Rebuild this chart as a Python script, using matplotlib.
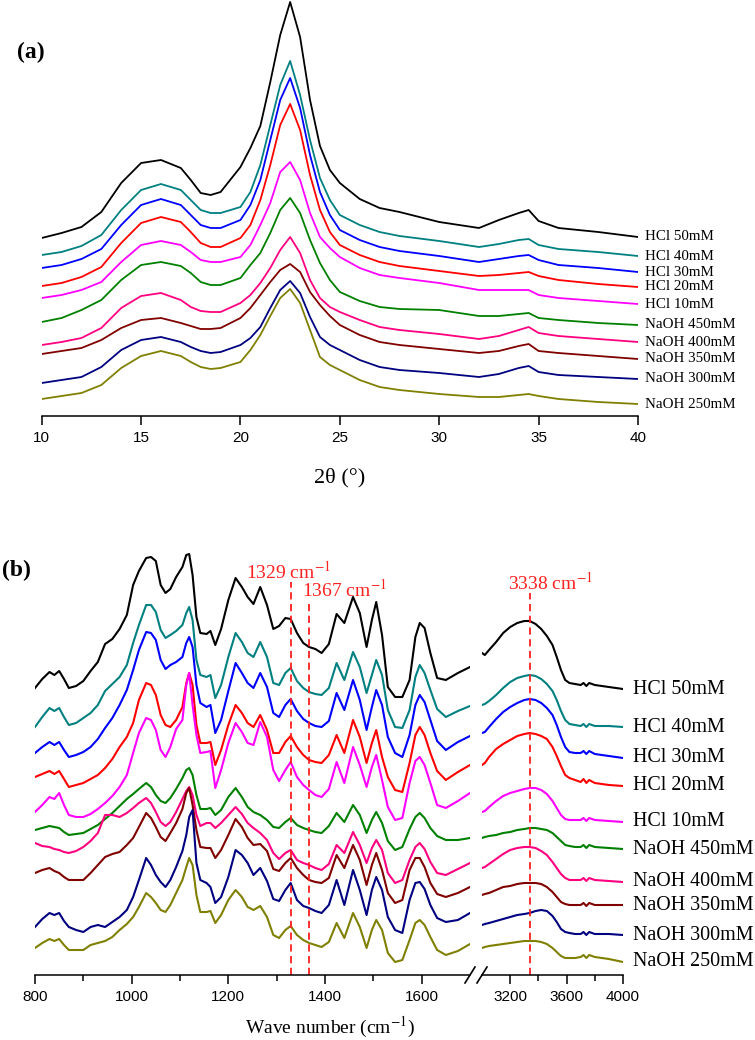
import matplotlib
matplotlib.use('Agg')
import matplotlib.pyplot as plt
from matplotlib.ticker import FixedLocator

plt.rcParams['font.family'] = 'Liberation Serif'
plt.rcParams['mathtext.fontset'] = 'stix'

samples = ['HCl 50mM', 'HCl 40mM', 'HCl 30mM', 'HCl 20mM', 'HCl 10mM',
           'NaOH 450mM', 'NaOH 400mM', 'NaOH 350mM', 'NaOH 300mM', 'NaOH 250mM']
colors = ['#000000', '#008080', '#0000ff', '#ff0000', '#ff00ff',
          '#008000', '#ff0080', '#800000', '#000080', '#808000']

# ---------------- (a) XRD, intensity in a.u. (stacked) ----------------
two_theta = [10, 11, 12, 13, 14, 15, 16, 17, 17.5, 18, 18.5, 19, 20, 20.5, 21, 21.5, 22, 22.5,
             23, 23.5, 24, 24.5, 25, 26, 27, 28, 30, 32, 33, 34, 34.5, 35, 36, 38, 40]

xrd_hcl50 = [178, 183, 189, 204, 233, 253, 256, 248, 236, 223, 221, 224, 249, 268, 290, 334, 381, 414,
             379, 316, 270, 246, 233, 217, 208, 204, 194, 188, 196, 203, 206, 195, 188, 184, 179]
xrd_hcl40 = [161, 164, 170, 181, 206, 226, 232, 226, 216, 206, 203, 203, 209, 224, 251, 291, 331, 355,
             321, 276, 238, 216, 201, 191, 184, 180, 175, 169, 172, 176, 177, 171, 167, 164, 160]
xrd_hcl30 = [148, 151, 157, 167, 191, 211, 217, 211, 201, 191, 188, 188, 196, 211, 236, 276, 316, 338,
             308, 261, 224, 201, 186, 176, 169, 165, 160, 154, 157, 160, 161, 156, 151, 148, 144]
xrd_hcl20 = [130, 133, 139, 149, 173, 193, 199, 194, 184, 173, 169, 169, 178, 191, 216, 251, 291, 312,
             286, 241, 206, 184, 171, 161, 154, 150, 145, 140, 141, 143, 144, 140, 136, 132, 129]
xrd_hcl10 = [118, 121, 126, 134, 154, 171, 175, 171, 164, 156, 154, 154, 159, 171, 191, 213, 244, 254,
             236, 203, 179, 168, 159, 148, 141, 138, 133, 126, 126, 126, 126, 121, 118, 115, 112]
xrd_naoh450 = [94, 98, 106, 116, 136, 151, 154, 150, 143, 134, 131, 131, 138, 151, 163, 183, 206, 218,
               203, 176, 153, 136, 124, 115, 109, 107, 106, 100, 100, 102, 103, 98, 96, 93, 91]
xrd_naoh400 = [71, 74, 78, 88, 108, 120, 123, 116, 109, 105, 104, 104, 113, 121, 133, 148, 166, 179,
               163, 136, 118, 109, 104, 96, 89, 86, 82, 77, 80, 86, 89, 83, 80, 77, 74]
xrd_naoh350 = [62, 65, 68, 76, 88, 96, 98, 93, 90, 87, 87, 88, 98, 108, 121, 134, 146, 152,
               144, 124, 111, 100, 91, 81, 74, 71, 67, 63, 65, 70, 72, 65, 63, 60, 57]
xrd_naoh300 = [33, 36, 39, 49, 66, 76, 79, 74, 69, 65, 63, 64, 71, 78, 89, 108, 126, 135,
               123, 99, 79, 71, 66, 56, 49, 46, 43, 39, 42, 48, 50, 44, 41, 39, 37]
xrd_naoh250 = [17, 20, 23, 31, 48, 60, 65, 60, 54, 49, 47, 48, 54, 66, 81, 100, 118, 127,
               113, 86, 59, 51, 46, 36, 29, 26, 22, 19, 19, 21, 22, 20, 17, 14, 12]
xrd = [xrd_hcl50, xrd_hcl40, xrd_hcl30, xrd_hcl20, xrd_hcl10,
       xrd_naoh450, xrd_naoh400, xrd_naoh350, xrd_naoh300, xrd_naoh250]

# ---------------- (b) FTIR, stacked transmittance (a.u.) ----------------
wn_low = [800, 815, 830, 840, 850, 860, 870, 885, 900, 915,
          930, 945, 960, 975, 990, 1003, 1015, 1030, 1040, 1050,
          1060, 1070, 1080, 1092, 1105, 1113, 1119, 1126, 1134, 1142,
          1155, 1163, 1173, 1185, 1200, 1215, 1228, 1240, 1252, 1266,
          1280, 1293, 1305, 1318, 1329, 1342, 1355, 1367, 1380, 1393,
          1408, 1424, 1440, 1458, 1472, 1486, 1497, 1506, 1518, 1530,
          1545, 1560, 1575, 1587, 1596, 1606, 1618, 1632, 1650, 1675,
          1700]
wn_high = [3000, 3020, 3050, 3100, 3150, 3200, 3250, 3300, 3338, 3380, 3420, 3460, 3500,
           3530, 3560, 3590, 3620, 3660, 3700, 3720, 3740, 3760, 3800, 3900, 4000]

ir_low_hcl50 = [287, 296, 303, 300, 304, 296, 287, 289, 294, 304,
                313, 331, 336, 346, 360, 390, 404, 417, 418, 414,
                390, 382, 386, 398, 408, 420, 421, 400, 358, 342,
                341, 344, 330, 346, 375, 397, 388, 378, 371, 388,
                370, 346, 349, 357, 356, 342, 332, 328, 326, 322,
                331, 361, 352, 378, 362, 328, 355, 373, 340, 288,
                278, 278, 295, 338, 352, 347, 322, 297, 295, 302,
                308]
ir_low_hcl40 = [248, 258, 267, 264, 267, 258, 250, 252, 257, 262,
                270, 284, 291, 298, 310, 332, 350, 370, 370, 363,
                345, 337, 340, 344, 350, 362, 368, 355, 315, 300,
                298, 300, 277, 290, 318, 342, 333, 322, 318, 333,
                318, 292, 290, 302, 307, 294, 287, 283, 281, 280,
                287, 312, 295, 323, 308, 282, 300, 315, 300, 265,
                248, 247, 265, 298, 310, 302, 285, 266, 258, 264,
                269]
ir_low_hcl30 = [222, 228, 233, 230, 233, 225, 218, 220, 223, 228,
                236, 247, 257, 270, 285, 305, 325, 343, 342, 335,
                315, 306, 310, 313, 318, 332, 338, 328, 290, 272,
                268, 270, 242, 255, 284, 312, 302, 292, 287, 302,
                288, 262, 258, 270, 276, 264, 256, 252, 249, 248,
                254, 282, 265, 295, 275, 245, 268, 285, 270, 238,
                222, 218, 240, 270, 280, 273, 255, 234, 225, 233,
                239]
ir_low_hcl20 = [198, 201, 204, 201, 204, 196, 188, 190, 192, 196,
                200, 207, 216, 228, 238, 252, 275, 292, 290, 280,
                260, 250, 248, 255, 268, 292, 302, 290, 250, 232,
                232, 233, 210, 225, 250, 270, 262, 252, 248, 260,
                245, 222, 222, 233, 239, 228, 220, 215, 213, 212,
                220, 240, 222, 255, 238, 212, 232, 245, 218, 198,
                185, 183, 212, 240, 248, 240, 222, 204, 195, 203,
                210]
ir_low_hcl10 = [163, 170, 178, 176, 182, 170, 160, 158, 158, 161,
                166, 172, 179, 188, 200, 222, 242, 257, 255, 245,
                225, 218, 228, 246, 255, 290, 302, 270, 240, 222,
                223, 224, 187, 205, 232, 252, 243, 232, 230, 253,
                238, 205, 194, 205, 213, 198, 190, 185, 180, 178,
                186, 213, 192, 228, 210, 188, 208, 220, 195, 168,
                155, 157, 192, 214, 218, 210, 192, 170, 167, 174,
                182]
ir_low_naoh450 = [145, 147, 149, 148, 147, 143, 140, 141, 142, 146,
                  150, 156, 162, 169, 176, 181, 186, 192, 188, 180,
                  174, 172, 177, 186, 197, 205, 207, 200, 180, 166,
                  166, 167, 160, 165, 178, 187, 178, 168, 163, 160,
                  155, 148, 147, 153, 157, 150, 147, 145, 143, 142,
                  149, 162, 153, 170, 160, 142, 155, 163, 152, 134,
                  125, 128, 146, 158, 162, 157, 147, 139, 135, 135,
                  137]
ir_low_naoh400 = [132, 129, 128, 126, 125, 123, 122, 124, 128, 134,
                  142, 160, 160, 158, 162, 167, 172, 177, 172, 163,
                  153, 149, 153, 163, 176, 184, 188, 180, 160, 149,
                  152, 152, 147, 152, 160, 168, 161, 152, 147, 142,
                  135, 122, 116, 122, 125, 115, 112, 110, 107, 105,
                  111, 130, 122, 143, 130, 112, 127, 135, 125, 102,
                  92, 95, 115, 128, 132, 126, 113, 102, 100, 106,
                  112]
ir_low_naoh350 = [102, 105, 107, 104, 102, 98, 95, 95, 95, 102,
                  110, 118, 121, 123, 130, 137, 148, 162, 157, 148,
                  138, 134, 142, 152, 166, 182, 187, 170, 145, 128,
                  127, 127, 117, 125, 140, 156, 148, 137, 130, 131,
                  124, 106, 104, 112, 117, 107, 100, 95, 93, 92,
                  97, 120, 107, 130, 115, 90, 110, 122, 105, 82,
                  72, 75, 105, 117, 117, 108, 92, 81, 78, 82,
                  88]
ir_low_naoh300 = [48, 56, 62, 60, 62, 54, 48, 45, 43, 48,
                  50, 48, 53, 58, 65, 78, 95, 117, 110, 100,
                  93, 88, 95, 108, 124, 140, 158, 165, 112, 95,
                  92, 88, 72, 78, 98, 125, 120, 112, 100, 107,
                  94, 76, 74, 85, 92, 75, 69, 67, 64, 62,
                  70, 95, 70, 105, 85, 60, 85, 98, 85, 58,
                  45, 42, 75, 92, 93, 86, 70, 57, 53, 55,
                  62]
ir_low_naoh250 = [27, 32, 36, 34, 36, 30, 25, 25, 25, 30,
                  32, 34, 38, 45, 51, 58, 68, 82, 78, 72,
                  65, 63, 70, 82, 95, 108, 117, 110, 80, 63,
                  63, 64, 52, 60, 75, 85, 78, 68, 65, 69,
                  58, 40, 37, 45, 49, 40, 35, 32, 30, 28,
                  33, 52, 37, 62, 48, 27, 45, 55, 45, 22,
                  13, 15, 35, 52, 55, 50, 38, 25, 20, 24,
                  31]

ir_high_hcl50 = [322, 320, 325, 333, 342, 348, 352, 354, 354, 351, 346, 339, 330,
                 318, 305, 295, 292, 291, 290, 292, 289, 292, 290, 288, 286]
ir_high_hcl40 = [270, 271, 274, 280, 287, 293, 297, 299, 300, 299, 296, 291, 284,
                 275, 264, 255, 251, 250, 249, 251, 248, 251, 249, 249, 248]
ir_high_hcl30 = [242, 243, 248, 256, 263, 268, 272, 275, 276, 275, 272, 267, 260,
                 250, 238, 228, 223, 222, 222, 224, 221, 224, 221, 219, 217]
ir_high_hcl20 = [210, 212, 218, 226, 231, 235, 239, 241, 242, 241, 239, 236, 228,
                 219, 209, 200, 197, 195, 193, 196, 192, 195, 192, 190, 189]
ir_high_hcl10 = [163, 164, 168, 174, 179, 182, 184, 186, 187, 187, 185, 181, 174,
                 167, 160, 156, 155, 155, 155, 157, 154, 157, 155, 154, 153]
ir_high_naoh450 = [137, 138, 139, 140, 142, 143, 145, 146, 147, 147, 146, 145, 142,
                   138, 134, 130, 129, 128, 128, 130, 127, 130, 128, 127, 126]
ir_high_naoh400 = [107, 108, 111, 116, 121, 125, 127, 128, 128, 127, 124, 120, 113,
                   107, 101, 97, 95, 95, 95, 97, 94, 97, 95, 94, 93]
ir_high_naoh350 = [80, 81, 82, 85, 88, 89, 91, 92, 92, 92, 91, 88, 83,
                   78, 73, 71, 70, 70, 70, 72, 69, 72, 70, 70, 70]
ir_high_naoh300 = [50, 51, 52, 54, 56, 58, 60, 61, 62, 64, 65, 64, 59,
                   53, 46, 43, 42, 41, 41, 43, 40, 43, 41, 41, 40]
ir_high_naoh250 = [27, 28, 29, 30, 31, 32, 33, 34, 34, 34, 33, 31, 27,
                   23, 19, 17, 17, 17, 18, 20, 17, 20, 18, 16, 13]

ir_low = [ir_low_hcl50, ir_low_hcl40, ir_low_hcl30, ir_low_hcl20, ir_low_hcl10,
          ir_low_naoh450, ir_low_naoh400, ir_low_naoh350, ir_low_naoh300, ir_low_naoh250]
ir_high = [ir_high_hcl50, ir_high_hcl40, ir_high_hcl30, ir_high_hcl20, ir_high_hcl10,
           ir_high_naoh450, ir_high_naoh400, ir_high_naoh350, ir_high_naoh300, ir_high_naoh250]

marked_peaks = [1329, 1367, 3338]

W, H = 755, 1040
fig = plt.figure(figsize=(W / 100, H / 100), dpi=100)


def px_box(x0, y_top, x1, y_bot):
    return [x0 / W, 1 - y_bot / H, (x1 - x0) / W, (y_bot - y_top) / H]


def style_axis(ax, lw=1.1):
    for s in ['top', 'right', 'left']:
        ax.spines[s].set_visible(False)
    ax.spines['bottom'].set_linewidth(lw)
    ax.set_yticks([])
    ax.tick_params(axis='x', which='major', direction='out', length=6.5, width=lw, pad=4)
    ax.tick_params(axis='x', which='minor', direction='out', length=4, width=lw)
    for lab in ax.get_xticklabels():
        lab.set_fontfamily('Liberation Sans')
        lab.set_fontsize(11)
    ax.patch.set_alpha(0)


# ---- panel (a)
ax_a = fig.add_axes(px_box(41.7, 0, 638, 416))
for name, col, y in zip(samples, colors, xrd):
    ax_a.plot(two_theta, y, color=col, lw=1.3)
    ax_a.annotate(name, xy=(two_theta[-1], y[-1]), xytext=(5, 0), textcoords='offset points',
                  va='center', ha='left', fontsize=10.8, annotation_clip=False)
ax_a.set_xlim(10, 40)
ax_a.set_ylim(0, 416)
ax_a.set_xticks([10, 15, 20, 25, 30, 35, 40])
style_axis(ax_a)
ax_a.set_xlabel('2\u03b8 (\u00b0)', fontsize=16, labelpad=17)
fig.text(17 / W, 1 - 52 / H, '(a)', fontsize=17, fontweight='bold', va='center', ha='left')

# ---- panel (b), broken x axis
ax_lo = fig.add_axes(px_box(35, 535, 470, 975))
ax_hi = fig.add_axes(px_box(482, 535, 623, 975))
for name, col, ylo, yhi in zip(samples, colors, ir_low, ir_high):
    ax_lo.plot(wn_low, ylo, color=col, lw=1.5)
    ax_hi.plot(wn_high, yhi, color=col, lw=1.5)
    ax_hi.annotate(name, xy=(wn_high[-1], yhi[-1]), xytext=(7, 0), textcoords='offset points',
                   va='center', ha='left', fontsize=14.4, annotation_clip=False)

ax_lo.set_xlim(800, 1700)
ax_hi.set_xlim(3000, 4000)
for ax in (ax_lo, ax_hi):
    ax.set_ylim(0, 440)
ax_lo.set_xticks([800, 1000, 1200, 1400, 1600])
ax_lo.xaxis.set_minor_locator(FixedLocator([900, 1100, 1300, 1500]))
ax_hi.set_xticks([3200, 3600, 4000])
ax_hi.xaxis.set_minor_locator(FixedLocator([3400, 3800]))
style_axis(ax_lo)
style_axis(ax_hi)

# dashed peak markers
red = '#ff2020'
ax_lo.plot([marked_peaks[0]] * 2, [0, 393], color=red, ls=(0, (4, 2.5)), lw=1.3)
ax_lo.plot([marked_peaks[1]] * 2, [0, 373], color=red, ls=(0, (4, 2.5)), lw=1.3)
ax_hi.plot([marked_peaks[2]] * 2, [0, 382], color=red, ls=(0, (4, 2.5)), lw=1.3)
ax_lo.text(1236, 403, '%d cm$^{-1}$' % marked_peaks[0], color=red, fontsize=14,
           va='center', ha='left')
ax_lo.text(1352, 385, '%d cm$^{-1}$' % marked_peaks[1], color=red, fontsize=14,
           va='center', ha='left', clip_on=False)
ax_hi.text(3184, 392, '%d cm$^{-1}$' % marked_peaks[2], color=red, fontsize=14,
           va='center', ha='left', clip_on=False)

# axis break marks
dy = 8 / 440
kw = dict(color='k', lw=1.2, clip_on=False)
ax_lo.plot([1 - 5 / 435, 1 + 5 / 435], [-dy, dy], transform=ax_lo.transAxes, **kw)
ax_hi.plot([-5 / 141, 5 / 141], [-dy, dy], transform=ax_hi.transAxes, **kw)

fig.text(330 / W, 1 - 1027 / H, 'Wave number (cm$^{-1}$)', fontsize=14, ha='center', va='center')
fig.text(2 / W, 1 - 570 / H, '(b)', fontsize=17, fontweight='bold', va='center', ha='left')

fig.savefig('out.png', dpi=100)
